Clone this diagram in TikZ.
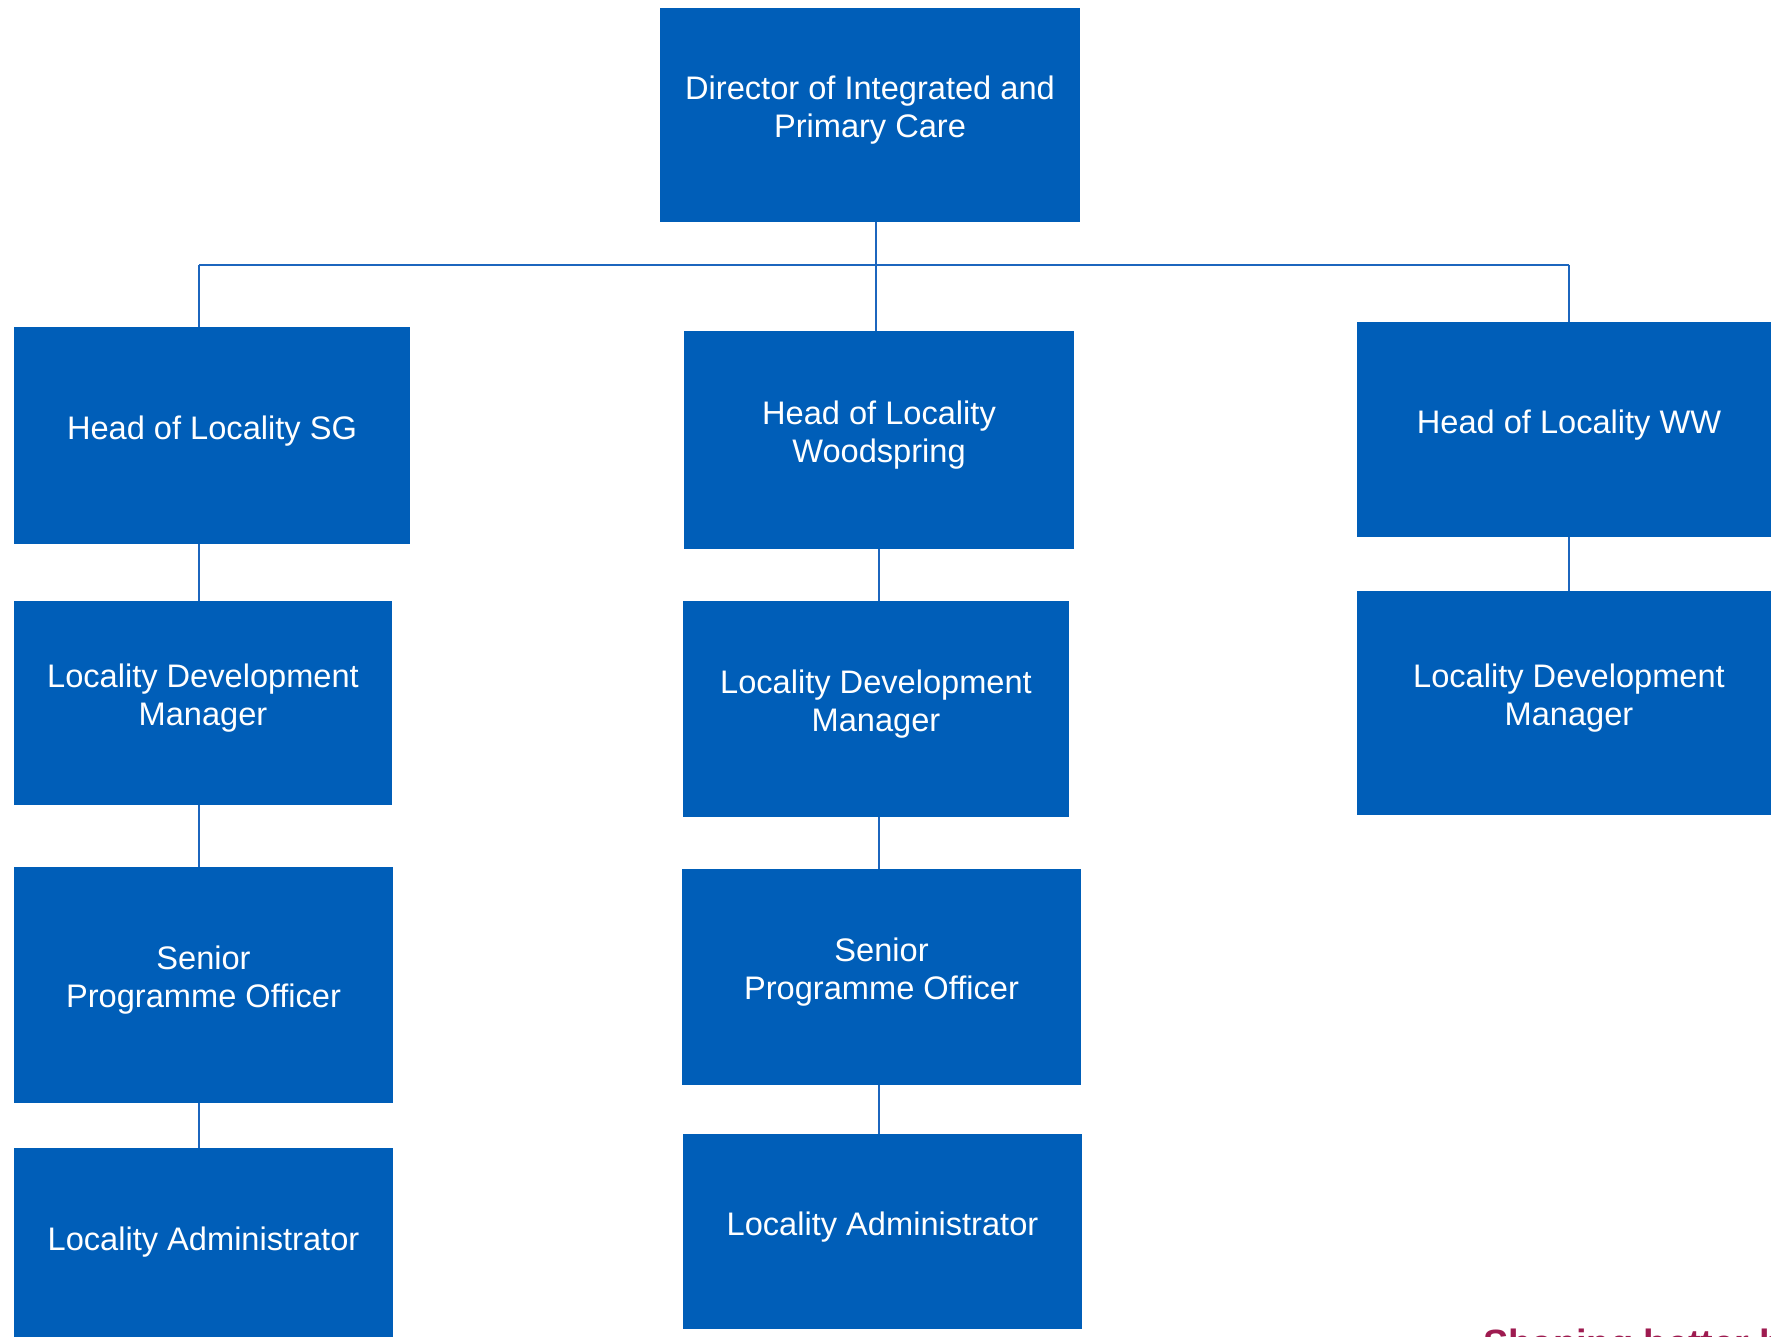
\documentclass[tikz,border=0pt]{standalone}
\usepackage{fontspec}
\setmainfont{Liberation Sans}
\usetikzlibrary{positioning, calc}
\definecolor{postFill}{RGB}{  0,  94, 184}
\definecolor{linkEdge}{RGB}{ 28, 102, 190}
\definecolor{tagText}{RGB}{158,  27,  80}
\tikzset{
  postbox/.style 2 args={
    fill=postFill, draw=none, text=white, align=center, inner sep=0pt,
    minimum width=#1, minimum height=#2, text depth=8pt,
    font=\fontsize{16.3}{19}\selectfont,
  },
  link/.style={
    draw=linkEdge, line width=0.9pt,
  },
}

\begin{document}
\begin{tikzpicture}[x=0.5pt, y=-0.5pt]

% =========================================================================
% page frame (pixels of the slide, y downwards)
% =========================================================================
\useasboundingbox (0,0) rectangle (1771,1337);
\clip (0,0) rectangle (1771,1337);

% =========================================================================
% director
% =========================================================================
\node[postbox={210pt}{107pt}] (dir) at (870,115)
  {Director of Integrated and\\Primary Care};

% =========================================================================
% heads of locality
% =========================================================================
\node[postbox={198pt}{108.5pt}] (headSG) at (212,435.5) {Head of Locality SG};
\node[postbox={195pt}{109pt}]   (headWS) at (879,440)   {Head of Locality\\Woodspring};
\node[postbox={212pt}{107.5pt}] (headWW) at (1569,429.5) {Head of Locality WW};

% =========================================================================
% locality development managers
% =========================================================================
\node[postbox={189pt}{102pt}] (ldmSG) at (203,703)  {Locality Development\\Manager};
\node[postbox={193pt}{108pt}] (ldmWS) at (876,709)  {Locality Development\\Manager};
\node[postbox={212pt}{112pt}] (ldmWW) at (1569,703) {Locality Development\\Manager};

% =========================================================================
% senior programme officers and administrators
% =========================================================================
\node[postbox={189.5pt}{118pt}] (spoSG) at (203.5,985) {Senior\\Programme Officer};
\node[postbox={199.5pt}{108pt}] (spoWS) at (881.5,977) {Senior\\Programme Officer};

\node[postbox={189.5pt}{98.5pt}] (laSG) at (203.5,1246.5) {Locality Administrator};
\node[postbox={199.5pt}{97.5pt}] (laWS) at (882.5,1231.5) {Locality Administrator};

% =========================================================================
% connectors
% =========================================================================
\coordinate (busDir) at (876,265);
\coordinate (busSG)  at (199,265);
\coordinate (busWS)  at (879,265);
\coordinate (busWW)  at (1569,265);

\draw[link] (dir.south -| busDir) -- (busDir);
\draw[link] (busSG) -- (busWW);
\draw[link] (busDir) -- (headWS.north -| busDir);
\draw[link] (busSG) -- (headSG.north -| busSG);
\draw[link] (busWW) -- (headWW.north -| busWW);

\foreach \a/\b/\c in {headSG/ldmSG/busSG, ldmSG/spoSG/busSG, spoSG/laSG/busSG,
                      headWS/ldmWS/busWS, ldmWS/spoWS/busWS, spoWS/laWS/busWS,
                      headWW/ldmWW/busWW}{
  \draw[link] (\a.south -| \c) -- (\b.north -| \c);
}

% =========================================================================
% tagline, cut by the slide edge
% =========================================================================
\node[anchor=base west, inner sep=0pt, text=tagText,
      font=\fontsize{19}{22}\selectfont\bfseries] (tag) at (1483,1356)
  {Shaping better health};

\end{tikzpicture}
\end{document}
